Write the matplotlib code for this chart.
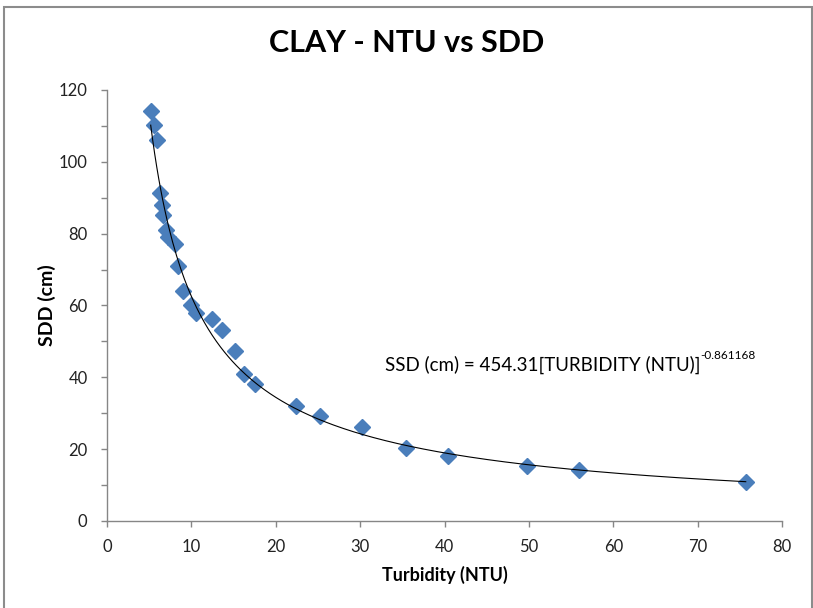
import numpy as np
import matplotlib.pyplot as plt
from matplotlib.ticker import MultipleLocator
from matplotlib.patches import Rectangle

# data
turbidity = [5.18, 5.57, 5.89, 6.24, 6.55, 6.6, 6.99, 7.27, 8.06, 8.37, 8.96,
             9.9, 10.5, 12.4, 13.6, 15.17, 16.2, 17.6, 22.4, 25.3, 30.2,
             35.4, 40.4, 49.8, 55.9, 75.7]
sdd = [114.2, 110.3, 106.0, 91.2, 87.9, 85.2, 81.1, 79.2, 77.2, 71.1, 64.1,
       60.0, 57.8, 56.3, 53.2, 47.2, 40.9, 38.1, 32.0, 29.1, 26.2,
       20.2, 18.1, 15.3, 14.2, 10.9]

# power trend line as printed on the chart
coef_a = 454.31
coef_b = -0.861168

title = "CLAY - NTU vs SDD"
xlabel = "Turbidity (NTU)"
ylabel = "SDD (cm)"
eq_main = "SSD (cm) = 454.31[TURBIDITY (NTU)]"
eq_sup = "-0.861168"

plt.rcParams['font.family'] = ['Lato', 'DejaVu Sans']

fig = plt.figure(figsize=(8.13, 6.08), dpi=100)
ax = fig.add_axes([0.1316, 0.1431, 0.8303, 0.7089])

xt = np.linspace(min(turbidity), max(turbidity), 300)
ax.plot(xt, coef_a*xt**coef_b, color="black", lw=0.8, zorder=3)
ax.plot(turbidity, sdd, linestyle="none", marker="D", ms=8.2,
        color="#4a7ebb", markeredgecolor="#4a7ebb", zorder=2)

ax.set_xlim(0, 80)
ax.set_ylim(0, 120)
ax.xaxis.set_major_locator(MultipleLocator(10))
ax.yaxis.set_major_locator(MultipleLocator(20))
ax.yaxis.set_minor_locator(MultipleLocator(10))

for sp in ["top", "right"]:
    ax.spines[sp].set_visible(False)
for sp in ["left", "bottom"]:
    ax.spines[sp].set_color("#868686")
    ax.spines[sp].set_linewidth(1.0)

ax.tick_params(which="both", direction="out", length=4, width=1.0, color="#868686")
ax.tick_params(axis="y", which="major", pad=10, labelsize=12, labelcolor="#222222")
ax.tick_params(axis="x", which="major", pad=9, labelsize=12, labelcolor="#222222")

ax.set_xlabel(xlabel, fontsize=13, fontweight="bold", labelpad=8)
ax.set_ylabel(ylabel, fontsize=14, fontweight="bold", labelpad=2)
fig.text(0.5, 0.929, title, ha="center", va="center", fontsize=22, fontweight="bold")

eq = ax.text(32.9, 41.9, eq_main, fontsize=13.5, ha="left", va="baseline")
ax.annotate(eq_sup, xy=(1.0, 0.68), xycoords=eq, fontsize=8.5, ha="left", va="bottom")

# chart border
fig.patches.append(Rectangle((4/813, -0.01), 808/813, 1.0 - 7/608 + 0.01,
                             transform=fig.transFigure, fill=False,
                             edgecolor="#8c8c8c", lw=1.5))

plt.savefig("out.png", dpi=100)
